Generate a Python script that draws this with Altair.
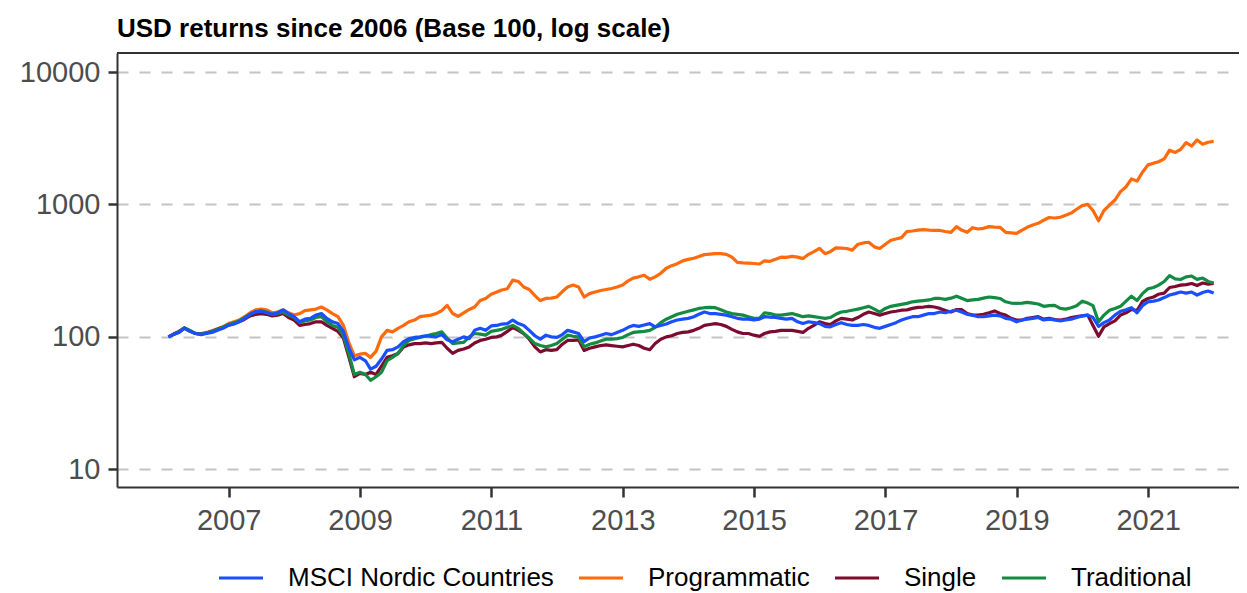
import altair as alt
import pandas as pd

# Monthly index levels (month-end), Jan 2006 .. Dec 2021
start_month = "2006-01-01"
n_months = 192

msci = [
    100, 104, 108, 116, 110, 106, 104, 106, 108, 112, 116, 122,   # 2006
    125, 130, 138, 148, 155, 156, 152, 148, 152, 160, 150, 142,   # 2007
    130, 136, 138, 146, 150, 138, 130, 126, 110, 82, 67, 70,      # 2008
    66, 57, 60, 68, 79, 80, 84, 92, 97, 99, 100, 102,             # 2009
    101, 100, 104, 95, 92, 96, 100, 97, 112, 116, 112, 121,       # 2010
    122, 125, 126, 134, 126, 122, 112, 102, 96, 103, 100, 99,     # 2011
    104, 112, 109, 106, 92, 98, 100, 103, 106, 104, 108, 112,     # 2012
    118, 122, 120, 123, 126, 119, 122, 125, 130, 134, 136, 138,   # 2013
    142, 148, 154, 150, 150, 148, 146, 142, 138, 136, 136, 134,   # 2014
    136, 142, 141, 140, 138, 136, 138, 130, 126, 130, 128, 126,   # 2015
    120, 119, 124, 128, 124, 122, 122, 124, 122, 118, 116, 120,   # 2016
    124, 128, 134, 138, 142, 142, 146, 150, 150, 154, 152, 156,   # 2017
    159, 154, 148, 146, 142, 142, 144, 146, 144, 138, 136, 130,   # 2018
    134, 136, 138, 140, 134, 136, 134, 132, 134, 136, 140, 144,   # 2019
    146, 140, 120, 128, 134, 146, 156, 160, 166, 152, 172, 184,   # 2020
    186, 190, 198, 207, 212, 218, 214, 218, 207, 216, 222, 214,   # 2021
]

programmatic = [
    100, 104, 109, 116, 110, 106, 106, 108, 111, 115, 119, 126,   # 2006
    130, 134, 142, 152, 160, 162, 160, 152, 154, 160, 152, 146,   # 2007
    150, 158, 160, 162, 168, 160, 150, 142, 122, 90, 72, 74,      # 2008
    75, 70, 78, 100, 112, 109, 116, 122, 130, 134, 142, 144,      # 2009
    146, 150, 158, 173, 150, 143, 152, 161, 168, 188, 195, 210,   # 2010
    218, 226, 231, 268, 262, 238, 228, 205, 188, 195, 196, 200,   # 2011
    220, 238, 246, 238, 200, 212, 218, 224, 228, 232, 238, 246,   # 2012
    265, 278, 284, 292, 272, 284, 302, 330, 345, 357, 375, 385,   # 2013
    392, 405, 418, 422, 425, 425, 420, 400, 365, 362, 360, 358,   # 2014
    355, 375, 372, 385, 400, 398, 405, 400, 390, 420, 440, 465,   # 2015
    425, 440, 470, 468, 465, 452, 500, 512, 518, 478, 465, 500,   # 2016
    537, 548, 562, 625, 630, 640, 645, 640, 638, 636, 625, 616,   # 2017
    680, 640, 616, 667, 652, 660, 680, 675, 672, 616, 610, 605,   # 2018
    640, 672, 700, 720, 760, 797, 790, 800, 830, 860, 920, 980,   # 2019
    1000, 900, 752, 900, 990, 1080, 1250, 1360, 1560, 1500, 1750, 1990,  # 2020
    2050, 2100, 2210, 2570, 2470, 2600, 2930, 2760, 3070, 2850, 2950, 2990,  # 2021
]

single = [
    100, 105, 110, 117, 111, 106, 105, 107, 110, 114, 118, 123,   # 2006
    126, 130, 136, 144, 148, 150, 148, 144, 146, 150, 140, 134,   # 2007
    122, 124, 126, 130, 130, 122, 116, 110, 98, 70, 50, 53,       # 2008
    52, 54, 52, 60, 70, 72, 75, 84, 87, 89, 89, 90,               # 2009
    89, 90, 91, 82, 75, 79, 81, 84, 90, 94, 96, 99,               # 2010
    100, 103, 110, 118, 112, 106, 96, 84, 77, 80, 79, 80,         # 2011
    88, 94, 94, 95, 79, 82, 84, 86, 87, 86, 85, 84,               # 2012
    86, 88, 86, 82, 80, 89, 96, 100, 102, 106, 108, 109,          # 2013
    112, 116, 122, 124, 126, 124, 120, 114, 109, 106, 106, 103,   # 2014
    101, 106, 109, 110, 112, 112, 112, 110, 108, 116, 122, 130,   # 2015
    126, 124, 132, 138, 136, 134, 140, 148, 154, 150, 146, 150,   # 2016
    154, 156, 159, 160, 164, 167, 168, 170, 168, 164, 158, 154,   # 2017
    161, 161, 150, 146, 146, 148, 152, 157, 150, 146, 138, 134,   # 2018
    134, 138, 140, 142, 136, 138, 135, 134, 136, 140, 142, 144,   # 2019
    146, 122, 101, 119, 126, 132, 146, 152, 161, 158, 185, 195,   # 2020
    200, 210, 214, 236, 240, 246, 248, 253, 244, 255, 250, 253,   # 2021
]

traditional = [
    100, 104, 109, 117, 112, 106, 105, 107, 110, 114, 118, 124,   # 2006
    128, 132, 140, 148, 154, 158, 154, 148, 150, 154, 146, 140,   # 2007
    128, 132, 134, 140, 142, 130, 122, 118, 102, 74, 52, 54,      # 2008
    52, 47, 50, 54, 66, 70, 75, 86, 94, 97, 99, 101,              # 2009
    104, 106, 109, 98, 89, 90, 91, 100, 106, 105, 103, 110,       # 2010
    112, 114, 118, 122, 116, 106, 98, 89, 86, 84, 86, 89,         # 2011
    96, 103, 101, 100, 84, 88, 90, 93, 96, 96, 97, 99,            # 2012
    104, 108, 109, 110, 112, 118, 128, 136, 142, 148, 152, 156,   # 2013
    160, 164, 166, 167, 166, 160, 154, 150, 148, 146, 142, 138,   # 2014
    138, 152, 150, 146, 146, 148, 150, 146, 142, 144, 142, 140,   # 2015
    138, 140, 148, 154, 156, 159, 162, 166, 170, 162, 154, 164,   # 2016
    170, 173, 176, 179, 184, 186, 188, 190, 195, 195, 192, 196,   # 2017
    203, 196, 188, 190, 192, 196, 200, 198, 195, 184, 180, 179,   # 2018
    180, 182, 180, 177, 170, 172, 173, 164, 162, 166, 172, 186,   # 2019
    180, 172, 130, 146, 159, 164, 170, 186, 203, 188, 212, 231,   # 2020
    236, 246, 262, 290, 274, 271, 284, 288, 272, 278, 262, 255,   # 2021
]

series_names = ["MSCI Nordic Countries", "Programmatic", "Single", "Traditional"]
series_colors = ["#1A4FFF", "#FF6A0D", "#7D0A2F", "#138B43"]
year_ticks = [2007, 2009, 2011, 2013, 2015, 2017, 2019, 2021]
y_ticks = [10, 100, 1000, 10000]

dates = pd.date_range(start_month, periods=n_months, freq="MS") + pd.offsets.MonthEnd(0)
date_str = [d.strftime("%Y-%m-%dT00:00:00") for d in dates]

# draw order: MSCI last so it sits on top
frames = []
for name, vals in [("Programmatic", programmatic), ("Single", single),
                   ("Traditional", traditional), ("MSCI Nordic Countries", msci)]:
    frames.append(pd.DataFrame({"date": date_str, "value": vals, "series": name}))
df = pd.concat(frames, ignore_index=True)

W, H = 1122, 434
FONT = "Liberation Sans"

lines = alt.Chart(df).mark_line(strokeWidth=3.2, strokeJoin="round", clip=True).encode(
    x=alt.X(
        "date:T",
        title=None,
        scale=alt.Scale(domain=[alt.DateTime(year=2005, month=4, date=20),
                                alt.DateTime(year=2022, month=5, date=21)]),
        axis=alt.Axis(
            values=[alt.DateTime(year=y, month=1, date=1) for y in year_ticks],
            format="%Y", grid=False, labelFontSize=29, labelPadding=9,
            tickSize=10, labelFlush=False,
        ),
    ),
    y=alt.Y(
        "value:Q",
        title=None,
        scale=alt.Scale(type="log", domain=[7.35, 13918], nice=False),
        axis=alt.Axis(values=y_ticks, format="d", grid=True, labelFontSize=29,
                      labelPadding=8, tickSize=9, gridDash=[11, 11],
                      gridColor="#C4C4C4", gridWidth=2),
    ),
    color=alt.Color(
        "series:N",
        scale=alt.Scale(domain=series_names, range=series_colors),
        legend=alt.Legend(
            title=None, orient="none", direction="horizontal",
            legendX=100, legendY=501, symbolType="stroke", symbolSize=1936,
            symbolStrokeWidth=3.2, labelFontSize=26, labelOffset=23,
            columnPadding=18, labelColor="#000000", labelFont=FONT, padding=0,
            labelLimit=500,
        ),
    ),
)

top_border = alt.Chart(pd.DataFrame({"k": [0]})).mark_rule(
    color="#333333", strokeWidth=2
).encode(x=alt.value(0), x2=alt.value(W), y=alt.value(0))

chart = alt.layer(lines, top_border).properties(
    width=W, height=H,
    title=alt.Title("USD returns since 2006 (Base 100, log scale)", anchor="start",
                    frame="group", fontSize=26, fontWeight="bold", font=FONT,
                    color="#000000", baseline="alphabetic", offset=20, dy=31),
    autosize=alt.AutoSizeParams(type="none"),
    padding={"left": 109, "top": 45, "right": 0, "bottom": 106},
).configure_view(stroke=None).configure_axis(
    labelFont=FONT, labelColor="#4D4D4D", domainColor="#333333", domainWidth=2,
    tickColor="#333333", tickWidth=2.5,
)

chart.save("out.html", embed_options={"renderer": "svg", "actions": False})
